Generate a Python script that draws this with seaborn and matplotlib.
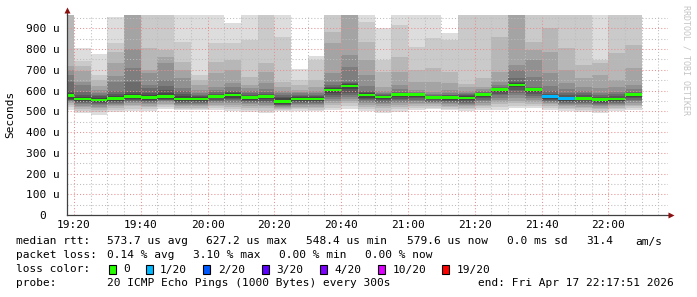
import numpy as np
import matplotlib
matplotlib.use("Agg")
import matplotlib.pyplot as plt
from matplotlib.patches import Rectangle
import seaborn as sns

# ---------------- data ----------------
# end time of each 300 s step
step_end = ["19:20", "19:25", "19:30", "19:35", "19:40", "19:45", "19:50", "19:55",
            "20:00", "20:05", "20:10", "20:15", "20:20", "20:25", "20:30", "20:35",
            "20:40", "20:45", "20:50", "20:55", "21:00", "21:05", "21:10", "21:15",
            "21:20", "21:25", "21:30", "21:35", "21:40", "21:45", "21:50", "21:55",
            "22:00", "22:05", "22:10"]

# median rtt per step (microseconds)
median_us = [575, 559, 554, 562, 570, 565, 572, 559, 559, 572, 578, 565, 570, 548,
             559, 559, 603, 622, 578, 569, 580, 580, 566, 566, 564, 580, 606, 627,
             606, 570, 561, 562, 556, 559, 580]

# lost pings (out of 20) per step
loss_count = [0, 0, 0, 0, 0, 0, 0, 0, 0, 0, 0, 0, 0, 0, 0, 0, 0, 0,
              0, 0, 0, 0, 0, 0, 0, 0, 0, 0, 0, 1, 1, 0, 0, 0, 0]

# 20 sorted ping rtts per step (microseconds)
pings_us = [
    [508, 520, 530, 538, 544, 548, 552, 556, 560, 568, 582, 590, 600, 643, 675, 699, 718, 980, 1000, 1050],
    [490, 500, 510, 520, 527, 533, 538, 543, 548, 554, 564, 571, 579, 595, 627, 643, 696, 718, 744, 803],
    [483, 495, 505, 514, 522, 528, 533, 538, 543, 548, 560, 566, 572, 579, 590, 603, 622, 651, 675, 776],
    [498, 507, 516, 524, 530, 535, 540, 545, 550, 556, 568, 575, 585, 600, 643, 670, 731, 788, 831, 953],
    [503, 513, 523, 531, 538, 543, 548, 553, 558, 564, 576, 583, 595, 643, 707, 798, 990, 1000, 1050, 1100],
    [503, 512, 520, 527, 533, 538, 543, 548, 553, 559, 571, 578, 590, 610, 627, 683, 699, 803, 1000, 1050],
    [512, 522, 530, 537, 543, 548, 552, 556, 560, 564, 580, 590, 603, 620, 651, 731, 760, 796, 1000, 1050],
    [505, 512, 518, 525, 530, 535, 540, 544, 548, 553, 565, 572, 585, 598, 611, 659, 700, 739, 836, 1000],
    [506, 512, 518, 525, 530, 535, 540, 544, 549, 554, 564, 568, 573, 580, 590, 603, 625, 651, 675, 1000],
    [505, 514, 523, 531, 538, 544, 550, 556, 562, 568, 576, 580, 585, 592, 603, 619, 683, 739, 828, 1000],
    [503, 513, 522, 530, 538, 546, 553, 560, 566, 573, 583, 586, 592, 600, 615, 635, 700, 747, 828, 924],
    [498, 508, 518, 527, 534, 540, 545, 550, 555, 560, 570, 574, 580, 590, 598, 610, 627, 667, 844, 1000],
    [490, 503, 515, 524, 532, 539, 545, 551, 558, 565, 575, 578, 585, 595, 605, 635, 690, 731, 1000, 1050],
    [503, 508, 512, 516, 520, 524, 528, 532, 536, 540, 556, 563, 570, 580, 590, 600, 619, 640, 860, 1000],
    [503, 510, 516, 522, 528, 533, 538, 543, 548, 553, 565, 570, 575, 580, 587, 595, 603, 627, 651, 702],
    [500, 508, 515, 522, 528, 533, 538, 543, 548, 553, 565, 569, 574, 580, 590, 600, 619, 651, 747, 767],
    [506, 518, 530, 540, 550, 560, 570, 580, 590, 598, 608, 612, 618, 625, 643, 683, 828, 884, 980, 1000],
    [512, 525, 538, 548, 558, 568, 578, 590, 605, 617, 627, 630, 635, 643, 715, 771, 990, 1000, 1050, 1100],
    [502, 512, 522, 530, 538, 546, 553, 560, 566, 574, 582, 586, 592, 600, 620, 675, 747, 836, 930, 1000],
    [490, 503, 515, 525, 533, 540, 546, 552, 558, 565, 573, 575, 578, 582, 590, 600, 619, 691, 747, 900],
    [498, 510, 520, 530, 538, 546, 553, 560, 568, 576, 584, 586, 590, 595, 605, 627, 691, 763, 916, 1000],
    [506, 515, 524, 533, 541, 549, 556, 563, 569, 576, 584, 585, 587, 590, 595, 603, 643, 699, 812, 1000],
    [510, 518, 526, 533, 538, 543, 547, 552, 557, 562, 570, 572, 574, 578, 585, 595, 643, 707, 852, 1000],
    [504, 512, 520, 527, 533, 539, 544, 549, 555, 561, 571, 573, 576, 580, 590, 603, 635, 691, 844, 876],
    [500, 509, 517, 524, 530, 536, 541, 547, 553, 559, 569, 572, 576, 582, 590, 600, 615, 630, 980, 1000],
    [505, 514, 523, 532, 540, 548, 555, 562, 569, 576, 583, 585, 588, 592, 597, 605, 619, 659, 980, 1000],
    [506, 520, 533, 545, 556, 566, 576, 585, 594, 602, 610, 612, 614, 618, 625, 643, 691, 860, 980, 1000],
    [514, 526, 538, 551, 564, 577, 590, 603, 615, 622, 632, 636, 643, 659, 699, 723, 990, 1000, 1050, 1100],
    [514, 524, 535, 546, 556, 566, 575, 584, 592, 600, 607, 609, 612, 619, 667, 747, 796, 836, 980, 1000],
    [506, 518, 527, 534, 540, 545, 550, 555, 560, 566, 574, 578, 585, 600, 620, 683, 788, 900, 1000, 1050],
    [500, 510, 518, 525, 531, 536, 541, 546, 551, 556, 566, 570, 578, 590, 605, 635, 699, 804, 980, 1000],
    [498, 507, 515, 522, 529, 535, 540, 546, 552, 558, 566, 570, 578, 590, 600, 619, 659, 723, 980, 1000],
    [490, 500, 510, 517, 523, 529, 535, 540, 545, 551, 561, 565, 570, 578, 590, 611, 675, 731, 747, 1000],
    [503, 510, 517, 523, 529, 535, 540, 545, 550, 555, 563, 566, 572, 582, 595, 619, 651, 779, 980, 1000],
    [505, 514, 523, 532, 540, 548, 555, 562, 569, 576, 584, 586, 590, 595, 605, 627, 707, 820, 980, 1000],
]

x_tick_labels = ["19:20", "19:40", "20:00", "20:20", "20:40", "21:00", "21:20", "21:40", "22:00"]
y_tick_values = [0, 100, 200, 300, 400, 500, 600, 700, 800, 900]
y_tick_labels = ["0  ", "100 u", "200 u", "300 u", "400 u", "500 u", "600 u", "700 u", "800 u", "900 u"]

loss_levels = ["0", "1/20", "2/20", "3/20", "4/20", "10/20", "19/20"]
loss_level_counts = [0, 1, 2, 3, 4, 10, 19]
loss_level_colors = ["#26ff00", "#00b8ff", "#0059ff", "#5e00ff", "#7e00ff", "#dd00ff", "#ff0000"]

view_start, view_end = "19:17:51", "22:17:51"
y_top = 964

# ---------------- helpers ----------------
def to_min(t):
    parts = [int(p) for p in t.split(":")]
    m = (parts[0] - 19) * 60 + parts[1]
    if len(parts) == 3:
        m += parts[2] / 60.0
    return m

step_minutes = 5
starts = np.array([to_min(t) - step_minutes for t in step_end])
P = np.array(pings_us, dtype=float)
med = np.array(median_us, dtype=float)

# ---------------- figure ----------------
sns.set_theme(style="white")
plt.rcParams["font.family"] = ["DejaVu Sans Mono"]
plt.rcParams["text.color"] = "#000000"

W, H = 697, 297
fig = plt.figure(figsize=(W / 100, H / 100), dpi=100, facecolor="white")
ax = fig.add_axes([66.7 / W, (H - 215) / H, (668 - 66.7) / W, 200 / H])
ax.set_facecolor("white")
x0, x1 = to_min(view_start), to_min(view_end)
ax.set_xlim(x0, x1)
ax.set_ylim(0, y_top)

# smoke: band i between ping i and ping 21-i, darker toward the middle
half = P.shape[1] // 2
for b in range(half):
    ibot = b + 1
    g = int(190 / half * (half - ibot)) + 50
    col = "#%02x%02x%02x" % (g, g, g)
    lo = P[:, b]
    hi = P[:, P.shape[1] - 1 - b]
    ax.bar(starts, hi - lo, bottom=lo, width=step_minutes, align="edge",
           color=col, linewidth=0, antialiased=False, zorder=1)

# median band coloured by loss
color_of = dict(zip(loss_level_counts, loss_level_colors))
mcols = [color_of[l] for l in loss_count]
mh = 6.5
ax.bar(starts, 2 * mh, bottom=med - mh, width=step_minutes, align="edge",
       color=mcols, linewidth=0, antialiased=False, zorder=5)

# grid
major_x = [to_min(t) for t in x_tick_labels]
ax.set_xticks(major_x)
ax.set_xticklabels(x_tick_labels)
ax.set_xticks(np.arange(major_x[0], x1, 5), minor=True)
ax.set_yticks(y_tick_values)
ax.set_yticklabels(y_tick_labels)
ax.set_yticks(np.arange(50, y_top, 100), minor=True)
ax.set_axisbelow(False)
dots = (0, (1, 2))
ax.grid(which="major", color="#e89090", linestyle=dots, linewidth=0.75, zorder=3)
ax.grid(which="minor", color="#bdbdbd", linestyle=dots, linewidth=0.75, zorder=3)

ax.tick_params(axis="both", which="major", length=2.2, width=0.7, color="#404040",
               labelsize=8, labelcolor="#000000", direction="out")
ax.tick_params(axis="x", which="major", pad=1.5)
ax.tick_params(axis="y", which="major", pad=2.5)
ax.tick_params(axis="both", which="minor", length=1.5, width=0.6, color="#606060")

for s in ["top", "right"]:
    ax.spines[s].set_visible(False)
for s in ["left", "bottom"]:
    ax.spines[s].set_color("#404040")
    ax.spines[s].set_linewidth(0.9)
    ax.spines[s].set_zorder(6)

# axis extensions + arrows
ax.plot([x0, x0], [y_top, 982], color="#404040", lw=0.9, clip_on=False, zorder=6)
ax.plot([x0], [987], marker="^", ms=4, color="#8b1010", clip_on=False, zorder=7, mec="none")
ax.plot([x1, x1 + 0.6], [0, 0], color="#404040", lw=0.9, clip_on=False, zorder=6)
ax.plot([x1 + 0.75], [0], marker=">", ms=4, color="#8b1010", clip_on=False, zorder=7, mec="none")

# labels
fig.text(10 / W, 1 - 114 / H, "Seconds", rotation=90, ha="center", va="center", fontsize=8)
fig.text(686 / W, 1 - 60 / H, "RRDTOOL / TOBI OETIKER", rotation=270, ha="center",
         va="center", fontsize=6, color="#c4c4c4")

def ftext(px, py, s, **kw):
    fig.text(px / W, 1 - py / H, s, ha="left", va="center", fontsize=8, **kw)

# legend line 1
y1 = 241.5
ftext(16, y1, "median rtt:")
for px, s in [(107, "573.7 us avg"), (206.5, "627.2 us max"), (306.5, "548.4 us min"),
              (407, "579.6 us now"), (507, "0.0 ms sd"), (586, "31.4"), (635, "am/s")]:
    ftext(px, y1, s)
# line 2
y2 = 255.5
ftext(16, y2, "packet loss:")
for px, s in [(107, "0.14 % avg"), (193, "3.10 % max"), (279, "0.00 % min"), (365, "0.00 % now")]:
    ftext(px, y2, s)
# line 3
y3 = 269.5
ftext(16, y3, "loss color:")
box_x = [108.7, 145.7, 203.3, 261.7, 320, 378.3, 442.3]
for bx, lab, c in zip(box_x, loss_levels, loss_level_colors):
    fig.patches.append(Rectangle((bx / W, 1 - 273.5 / H), 6.8 / W, 9 / H,
                                 transform=fig.transFigure, facecolor=c,
                                 edgecolor="#000000", linewidth=0.8))
    ftext(bx + 14.5, y3, lab)
# line 4
y4 = 283.5
ftext(16, y4, "probe:")
ftext(107, y4, "20 ICMP Echo Pings (1000 Bytes) every 300s")
ftext(478, y4, "end: Fri Apr 17 22:17:51 2026")

fig.savefig("out.png", dpi=100, facecolor="white")
